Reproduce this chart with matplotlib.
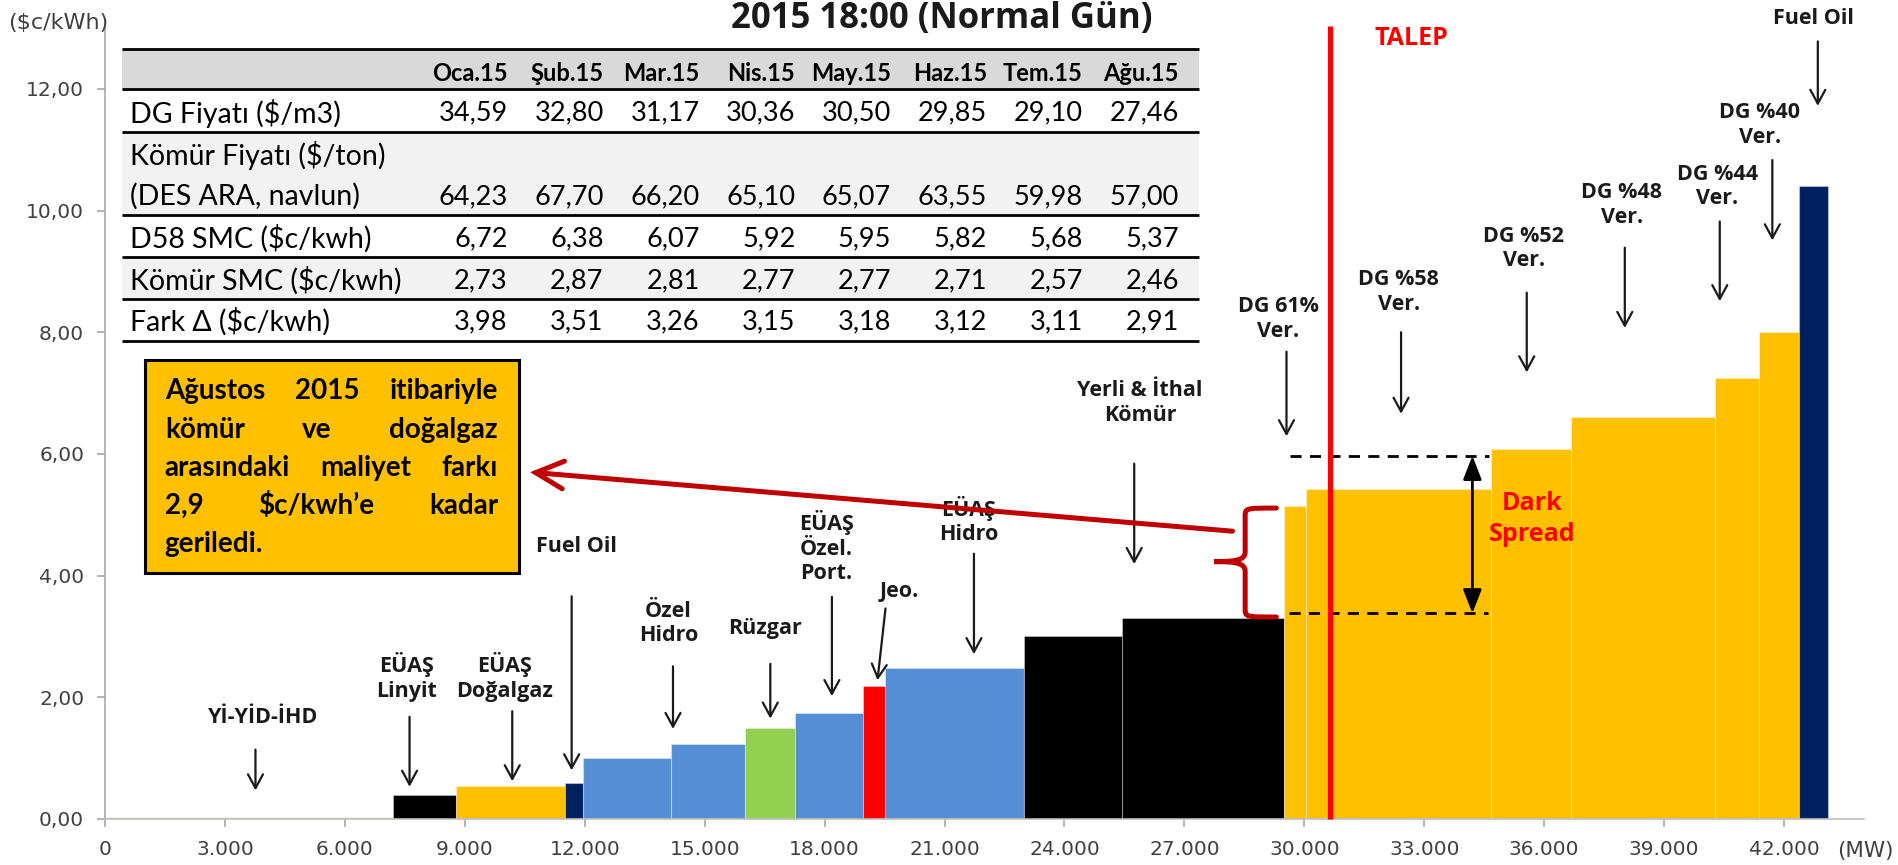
import numpy as np
import matplotlib
matplotlib.use("Agg")
import matplotlib.pyplot as plt
from matplotlib.patches import Rectangle, PathPatch
from matplotlib.path import Path

plt.rcParams['font.family'] = ['Lato', 'DejaVu Sans']
LABEL_FONT = ['Open Sans', 'DejaVu Sans']

# ---------------------------------------------------------------------------
# Merit-order supply blocks (capacity in MW, marginal cost in $c/kWh)
# ---------------------------------------------------------------------------
block_names = ['Yİ-YİD-İHD', 'EÜAŞ Linyit', 'EÜAŞ Doğalgaz', 'Fuel Oil',
               'Akarsu', 'Özel Hidro', 'Rüzgar', 'EÜAŞ Özel Port.', 'Jeo.',
               'EÜAŞ Hidro', 'Yerli Kömür', 'İthal Kömür',
               'DG %61', 'DG %58', 'DG %52', 'DG %48', 'DG %44', 'DG %40',
               'Fuel Oil (tepe)']
block_mw = [7200, 1570, 2735, 445, 2210, 1840, 1256, 1698, 559, 3463,
            2468, 4056, 545, 4627, 1996, 3612, 1093, 1004, 724]
block_cost = [0.03, 0.40, 0.55, 0.59, 1.00, 1.24, 1.49, 1.75, 2.19, 2.48,
              3.01, 3.30, 5.15, 5.42, 6.08, 6.61, 7.25, 8.00, 10.41]
block_fuel = ['ihd', 'coal', 'gas', 'oil', 'hydro', 'hydro', 'wind', 'hydro',
              'geo', 'hydro', 'coal', 'coal', 'gas', 'gas', 'gas', 'gas',
              'gas', 'gas', 'oil']

demand_mw = 30636            # TALEP
spread_low = 3.38            # coal marginal cost level
spread_high = 5.97           # gas marginal cost level

# Monthly comparison table
months = ['Oca.15', 'Şub.15', 'Mar.15', 'Nis.15', 'May.15', 'Haz.15',
          'Tem.15', 'Ağu.15']
dg_price = [34.59, 32.80, 31.17, 30.36, 30.50, 29.85, 29.10, 27.46]
coal_price = [64.23, 67.70, 66.20, 65.10, 65.07, 63.55, 59.98, 57.00]
d58_smc = [6.72, 6.38, 6.07, 5.92, 5.95, 5.82, 5.68, 5.37]
coal_smc = [2.73, 2.87, 2.81, 2.77, 2.77, 2.71, 2.57, 2.46]
fark = [3.98, 3.51, 3.26, 3.15, 3.18, 3.12, 3.11, 2.91]

x_ticks = [0, 3000, 6000, 9000, 12000, 15000, 18000, 21000, 24000, 27000,
           30000, 33000, 36000, 39000, 42000]
x_tick_labels = ['0', '3.000', '6.000', '9.000', '12.000', '15.000', '18.000',
                 '21.000', '24.000', '27.000', '30.000', '33.000', '36.000',
                 '39.000', '42.000']
y_ticks = [0, 2, 4, 6, 8, 10, 12]
y_tick_labels = ['0,00', '2,00', '4,00', '6,00', '8,00', '10,00', '12,00']

fuel_colors = {'ihd': '#C5E0B4', 'coal': '#000000', 'gas': '#FFC000',
               'oil': '#002060', 'hydro': '#558ED5', 'wind': '#92D050',
               'geo': '#FF0000'}

W, H = 1899, 865
fig = plt.figure(figsize=(W / 100, H / 100), dpi=100)
ax_left, ax_right, ax_bottom, ax_top = 105, 1864, 819, 28
ax = fig.add_axes([ax_left / W, (H - ax_bottom) / H,
                   (ax_right - ax_left) / W, (ax_bottom - ax_top) / H])
ax.set_xlim(0, 44000)
ax.set_ylim(0, 13.0)

# --- supply stack ----------------------------------------------------------
starts = np.concatenate([[0], np.cumsum(block_mw)[:-1]])
ax.bar(starts, block_cost, width=block_mw, align='edge',
       color=[fuel_colors[f] for f in block_fuel],
       edgecolor=(1, 1, 1, 0.35), linewidth=0.8, zorder=2)

# --- axes styling ----------------------------------------------------------
for s in ['top', 'right']:
    ax.spines[s].set_visible(False)
ax.spines['left'].set_color('#A6A6A6')
ax.spines['bottom'].set_color('#BFBFBF')
ax.spines['left'].set_linewidth(1.2)
ax.spines['bottom'].set_linewidth(1.2)
ax.set_xticks(x_ticks)
ax.set_xticklabels(x_tick_labels)
ax.set_yticks(y_ticks)
ax.set_yticklabels(y_tick_labels)
ax.tick_params(axis='both', direction='out', length=6, width=1.2,
               color='#A6A6A6', labelcolor='#404040', labelsize=14.5)
ax.tick_params(axis='x', pad=9)
ax.tick_params(axis='y', pad=9)
for lab in ax.get_xticklabels() + ax.get_yticklabels():
    lab.set_family('DejaVu Sans')

fig.text(8 / W, 1 - 23 / H, '($c/kWh)', fontsize=16, color='#404040',
         family='DejaVu Sans', ha='left', va='center')
fig.text(1837 / W, 1 - 851 / H, '(MW)', fontsize=15.5, color='#404040',
         family='DejaVu Sans', ha='left', va='center')
fig.text(942 / W, 1 - 19 / H, '2015 18:00 (Normal Gün)', fontsize=25,
         fontweight='bold', color='#1a1a1a', ha='center', va='center',
         family=LABEL_FONT)

# --- demand line -------------------------------------------------------------
ax.plot([demand_mw, demand_mw], [0, 13.04], color='#FF0000', lw=3.8,
        zorder=6, clip_on=False, solid_capstyle='butt')
ax.text(32676, 12.82, 'TALEP', color='#FF0000', fontsize=18,
        fontweight='bold', ha='center', va='center', family=LABEL_FONT)

# --- dark spread markers -----------------------------------------------------
ax.plot([29650, 34620], [spread_high, spread_high], color='black', lw=2,
        ls=(0, (4, 3)), zorder=5)
ax.plot([29620, 34590], [spread_low, spread_low], color='black', lw=2,
        ls=(0, (4, 3)), zorder=5)
ax.annotate('', xy=(34204, spread_high), xytext=(34204, spread_low),
            arrowprops=dict(arrowstyle='<|-|>,head_length=0.9,head_width=0.35',
                            color='black', lw=2, shrinkA=0, shrinkB=0,
                            mutation_scale=16), zorder=5)
ax.text(35709, 4.93, 'Dark\nSpread', color='#FF0000', fontsize=18,
        fontweight='bold', ha='center', va='center', linespacing=1.35,
        zorder=7, family=LABEL_FONT)

# --- labels with arrows ------------------------------------------------------
labels = [
    ('Yİ-YİD-İHD', 3965, 1.66, (3764, 1.14), (3764, 0.47)),
    ('EÜAŞ\nLinyit', 7540, 2.335, (7618, 1.68), (7618, 0.53)),
    ('EÜAŞ\nDoğalgaz', 9997, 2.335, (10187, 1.77), (10187, 0.62)),
    ('Fuel Oil', 11784, 4.48, (11673, 3.66), (11673, 0.80)),
    ('Özel\nHidro', 14097, 3.215, (14208, 2.51), (14208, 1.48)),
    ('Rüzgar', 16508, 3.13, (16642, 2.55), (16642, 1.65)),
    ('EÜAŞ\nÖzel.\nPort.', 18038, 4.465, (18183, 3.65), (18183, 2.02)),
    ('Jeo.', 19859, 3.74, (19524, 3.46), (19323, 2.28)),
    ('EÜAŞ\nHidro', 21613, 4.905, (21736, 4.36), (21736, 2.71)),
    ('Yerli & İthal\nKömür', 25891, 6.835, (25745, 5.84), (25745, 4.19)),
    ('DG 61%\nVer.', 29353, 8.22, (29554, 7.68), (29554, 6.29)),
    ('DG %58\nVer.', 32364, 8.66, (32420, 8.00), (32420, 6.66)),
    ('DG %52\nVer.', 35486, 9.375, (35564, 8.65), (35564, 7.34)),
    ('DG %48\nVer.', 37939, 10.095, (38017, 9.39), (38017, 8.07)),
    ('DG %44\nVer.', 40336, 10.395, (40392, 9.82), (40392, 8.51)),
    ('DG %40\nVer.', 41395, 11.41, (41707, 10.83), (41707, 9.51)),
    ('Fuel Oil', 42733, 13.15, (42845, 12.78), (42845, 11.72)),
]
for text, tx, ty, tail, head in labels:
    ax.text(tx, ty, text, fontsize=15.5, fontweight='bold', color='#1a1a1a',
            ha='center', va='center', linespacing=1.22, zorder=4,
            clip_on=False, family=LABEL_FONT)
    ax.annotate('', xy=head, xytext=tail,
                arrowprops=dict(arrowstyle='->,head_length=0.55,head_width=0.3',
                                color='#1a1a1a', lw=1.6, shrinkA=0, shrinkB=0,
                                mutation_scale=18), zorder=4)

# --- table -------------------------------------------------------------------
tbl_x0, tbl_x1 = 436, 27366
bands = [(12.0, 12.66, '#D9D9D9'), (11.29, 12.0, 'white'),
         (9.92, 11.29, '#F2F2F2'), (9.23, 9.92, 'white'),
         (8.54, 9.23, '#F2F2F2'), (7.85, 8.54, 'white')]
for y0, y1, c in bands:
    ax.add_patch(Rectangle((tbl_x0, y0), tbl_x1 - tbl_x0, y1 - y0,
                           facecolor=c, edgecolor='none', zorder=3))
for yl in [12.66, 12.0, 11.29, 9.92, 9.23, 8.54, 7.85]:
    ax.plot([tbl_x0, tbl_x1], [yl, yl], color='black', lw=2.0, zorder=3.5,
            solid_capstyle='butt')

col_right = 10075 + 2398 * np.arange(len(months))
for xr, m in zip(col_right, months):
    ax.text(xr, 12.25, m, fontsize=17, fontweight='bold', color='black',
            ha='right', va='center', zorder=4)

def fmt(v):
    return f'{v:.2f}'.replace('.', ',')

rows = [('DG Fiyatı ($/m3)', 11.60, dg_price),
        ('(DES ARA, navlun)', 10.23, coal_price),
        ('D58 SMC ($c/kwh)', 9.54, d58_smc),
        ('Kömür SMC ($c/kwh)', 8.85, coal_smc),
        ('Fark Δ ($c/kwh)', 8.17, fark)]
label_x = 637
ax.text(label_x, 10.91, 'Kömür Fiyatı ($/ton)', fontsize=20.5, color='black',
        ha='left', va='center', zorder=4)
for lab, yy, vals in rows:
    ax.text(label_x, yy, lab, fontsize=20.5, color='black', ha='left',
            va='center', zorder=4)
    for xr, v in zip(col_right, vals):
        ax.text(xr, yy, fmt(v), fontsize=19.5, color='black', ha='right',
                va='center', zorder=4)

# --- explanation box with red pointer ---------------------------------------
box_x0, box_x1, box_y0, box_y1 = 994, 10355, 4.04, 7.54
ax.add_patch(Rectangle((box_x0, box_y0), box_x1 - box_x0, box_y1 - box_y0,
                       facecolor='#FFC000', edgecolor='black', lw=2.2,
                       zorder=8))

fig.canvas.draw()
renderer = fig.canvas.get_renderer()
px_per_mw = (ax.transData.transform((1000, 0))[0]
             - ax.transData.transform((0, 0))[0]) / 1000

box_lines = [['Ağustos', '2015', 'itibariyle'],
             ['kömür', 've', 'doğalgaz'],
             ['arasındaki', 'maliyet', 'farkı'],
             ['2,9', '$c/kwh’e', 'kadar'],
             ['geriledi.']]
line_y = [7.03, 6.40, 5.77, 5.15, 4.52]
txt_x0, txt_x1 = 1497, 9830
for words, yy in zip(box_lines, line_y):
    objs = [ax.text(0, yy, w, fontsize=20, fontweight='bold',
                    color='black', ha='left', va='center', zorder=9)
            for w in words]
    widths = [o.get_window_extent(renderer).width / px_per_mw for o in objs]
    if len(objs) == 1:
        objs[0].set_x(txt_x0)
        continue
    gap = (txt_x1 - txt_x0 - sum(widths)) / (len(objs) - 1)
    xpos = txt_x0
    for o, w in zip(objs, widths):
        o.set_x(xpos)
        xpos += w + gap

ax.annotate('', xy=(10634, 5.70), xytext=(28203, 4.73),
            arrowprops=dict(arrowstyle='->,head_length=1.0,head_width=0.5',
                            color='#C00000', lw=3.6, shrinkA=0, shrinkB=0,
                            mutation_scale=20, joinstyle='miter'),
            zorder=7)

# curly brace spanning the coal-gas cost gap
xr, xm, xt = 29300, 28520, 27740
yt, yb, ym = 5.11, 3.32, 4.23
verts = [(xr, yt), (xm, yt), (xm, yt), (xm, yt - 0.14),
         (xm, ym + 0.16),
         (xm, ym + 0.02), (xm - 250, ym), (xt, ym),
         (xm - 250, ym), (xm, ym - 0.02), (xm, ym - 0.16),
         (xm, yb + 0.14),
         (xm, yb), (xm, yb), (xr, yb)]
codes = [Path.MOVETO, Path.CURVE4, Path.CURVE4, Path.CURVE4,
         Path.LINETO,
         Path.CURVE4, Path.CURVE4, Path.CURVE4,
         Path.CURVE4, Path.CURVE4, Path.CURVE4,
         Path.LINETO,
         Path.CURVE4, Path.CURVE4, Path.CURVE4]
ax.add_patch(PathPatch(Path(verts, codes), facecolor='none',
                       edgecolor='#C00000', lw=3.6, capstyle='round',
                       zorder=7))

fig.savefig('out.png', dpi=100)
